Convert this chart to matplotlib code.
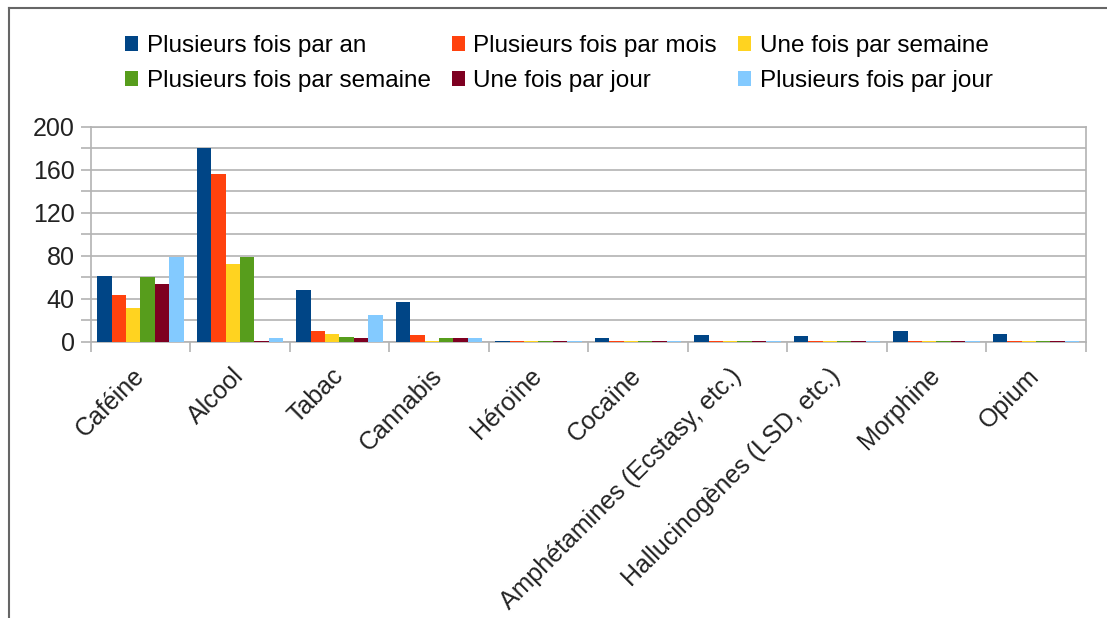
import numpy as np
import matplotlib
matplotlib.use("Agg")
import matplotlib.pyplot as plt
from matplotlib.lines import Line2D
from matplotlib.patches import Patch

plt.rcParams['font.family'] = ['Liberation Sans', 'DejaVu Sans']

# --- Données ---
categories = ["Caféine", "Alcool", "Tabac", "Cannabis", "Héroïne", "Cocaïne",
              "Amphétamines (Ecstasy, etc.)", "Hallucinogènes (LSD, etc.)",
              "Morphine", "Opium"]
series_names = ["Plusieurs fois par an", "Plusieurs fois par mois",
                "Une fois par semaine", "Plusieurs fois par semaine",
                "Une fois par jour", "Plusieurs fois par jour"]
par_an        = [61, 180, 48, 37, 1, 3, 6, 5, 10, 7]
par_mois      = [43, 156, 10, 6, 1, 1, 1, 1, 1, 1]
une_semaine   = [31, 72, 7, 1, 1, 1, 1, 1, 1, 1]
plus_semaine  = [60, 79, 4, 3, 1, 1, 1, 1, 1, 1]
une_jour      = [54, 1, 3, 3, 1, 1, 1, 1, 1, 1]
plus_jour     = [79, 3, 25, 3, 1, 1, 1, 1, 1, 1]
series = [par_an, par_mois, une_semaine, plus_semaine, une_jour, plus_jour]
colors = ["#004586", "#ff420e", "#ffd320", "#579d1c", "#7e0021", "#83caff"]

W, H = 1107, 618
fig = plt.figure(figsize=(W / 100, H / 100), dpi=100)
ax = fig.add_axes([90.7 / W, 1 - 341.7 / H, (1085.7 - 90.7) / W, (341.7 - 126.7) / H])

x = np.arange(len(categories))
bw = 0.145
for i, (vals, c) in enumerate(zip(series, colors)):
    ax.bar(x + (i - 2.5) * bw, vals, width=bw, color=c, zorder=3, linewidth=0)

grid_c = "#b3b3b3"
ax.set_xlim(-0.5, len(categories) - 0.5)
ax.set_ylim(0, 200)
ax.set_yticks(np.arange(0, 201, 40))
ax.set_yticks(np.arange(0, 201, 20), minor=True)
ax.yaxis.grid(True, which='both', color=grid_c, linewidth=1.2, zorder=0)
ax.tick_params(axis='y', which='both', length=7.5, width=1.2, color=grid_c,
               labelsize=18, labelcolor="#222222", pad=4)

ax.set_xticks(x)
ax.set_xticks(np.arange(-0.5, len(categories), 1), minor=True)
ax.set_xticklabels(categories, rotation=45, ha='right', va='center',
                   rotation_mode='anchor', fontsize=18, color="#222222")
ax.tick_params(axis='x', which='major', length=0, pad=22)
ax.tick_params(axis='x', which='minor', length=7.5, width=1.2, color=grid_c)

for s in ax.spines.values():
    s.set_color(grid_c)
    s.set_linewidth(1.2)

# légende : ordre colonne par colonne pour obtenir les lignes du modèle
handles = [Patch(facecolor=c, edgecolor='none') for c in colors]
order = [0, 3, 1, 4, 2, 5]
fig.legend([handles[k] for k in order], [series_names[k] for k in order],
           ncol=3, loc='upper left', bbox_to_anchor=(125 / W, 1 - 35 / H),
           frameon=False, fontsize=17.5, handlelength=0.55, handleheight=0.55,
           handletextpad=0.35, columnspacing=0.85, labelspacing=0.55,
           borderpad=0, borderaxespad=0)

# cadre de l'image
fig.add_artist(Line2D([8.5 / W, 8.5 / W], [0, 1 - 7.5 / H], color="#666666", lw=1.5))
fig.add_artist(Line2D([8.5 / W, 1], [1 - 7.5 / H, 1 - 7.5 / H], color="#666666", lw=1.5))

fig.savefig("out.png", dpi=100)
